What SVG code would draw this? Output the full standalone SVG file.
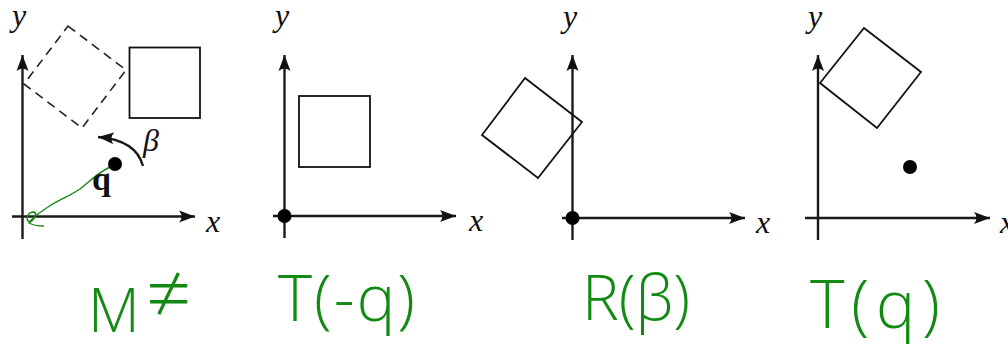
<svg xmlns="http://www.w3.org/2000/svg" width="1008" height="345" viewBox="0 0 1008 345">
<style>
.axis{stroke:#1a1a1a;stroke-width:2.4;fill:none}
.sq{stroke:#111;stroke-width:1.8;fill:none}
.dash{stroke:#222;stroke-width:1.6;fill:none;stroke-dasharray:9 6}
.lbl{font-family:"Liberation Serif",serif;font-style:italic;font-size:32px;fill:#111}
.hand{font-family:"Open Sans","Liberation Sans",sans-serif;font-weight:300;fill:#138a13}
.dot{fill:#000}
</style>
<defs>
<marker id="ah" viewBox="-16 -7 18 14" refX="0" refY="0" markerWidth="18" markerHeight="14" markerUnits="userSpaceOnUse" orient="auto">
<path d="M0,0 L-16,-6 Q-11,0 -16,6 Z" fill="#111"/>
</marker>
</defs>
<g id="connectors">
<line class="axis" x1="22.5" y1="239" x2="22.5" y2="55" marker-end="url(#ah)"/>
<line class="axis" x1="12" y1="216.5" x2="195" y2="216.5" marker-end="url(#ah)"/>
<line class="axis" x1="284.5" y1="238" x2="284.5" y2="55" marker-end="url(#ah)"/>
<line class="axis" x1="273" y1="216" x2="456" y2="216" marker-end="url(#ah)"/>
<line class="axis" x1="572.5" y1="240" x2="572.5" y2="55" marker-end="url(#ah)"/>
<line class="axis" x1="562" y1="218" x2="745" y2="218" marker-end="url(#ah)"/>
<line class="axis" x1="818" y1="240" x2="818" y2="55" marker-end="url(#ah)"/>
<line class="axis" x1="805" y1="218" x2="990" y2="218" marker-end="url(#ah)"/>
<path class="axis" d="M143,166 Q136,140 98,137" stroke-width="2.2" marker-end="url(#ah)"/>
<path d="M110,167 C96,174 88,183 80,189 C70,196 60,199 48,207 C40,212 34,217 29,222 C25,218 28,212 34,212 C38,214 34,220 29,223 C34,226 40,226 44,226" fill="none" stroke="#138a13" stroke-width="1.4"/>
</g>
<g id="panel1">
<text class="lbl" x="12" y="26">y</text>
<text class="lbl" x="206" y="232">x</text>
<polygon class="dash" points="68,26 126,70 82,128 24,84"/>
<rect class="sq" x="129.5" y="47.5" width="70.5" height="70.5"/>
<circle class="dot" cx="115" cy="164" r="7"/>
<text x="92" y="190" font-family="Liberation Serif,serif" font-weight="bold" font-size="34" fill="#111">q</text>
<text class="lbl" x="143" y="151" font-size="38">β</text>
</g>
<g id="panel2">
<text class="lbl" x="275" y="26">y</text>
<text class="lbl" x="469" y="231">x</text>
<rect class="sq" x="299" y="96" width="71" height="71"/>
<circle class="dot" cx="284.5" cy="216" r="7"/>
</g>
<g id="panel3">
<text class="lbl" x="563" y="27">y</text>
<text class="lbl" x="756" y="233">x</text>
<polygon class="sq" points="525,78 582,122 538,178 482,135"/>
<circle class="dot" cx="572.5" cy="218" r="7"/>
</g>
<g id="panel4">
<text class="lbl" x="808" y="27">y</text>
<text class="lbl" x="1000" y="233">x</text>
<polygon class="sq" points="864,28 921,72 877,128 820,83"/>
<circle class="dot" cx="910" cy="167" r="7"/>
</g>
<g id="handwriting">
<text class="hand" x="88" y="332" font-size="60">M</text>
<text class="hand" x="146" y="322" font-size="80">≠</text>
<text class="hand" x="278" y="321" font-size="65" textLength="137" lengthAdjust="spacing">T(-q)</text>
<text class="hand" x="582" y="320" font-size="62" textLength="108" lengthAdjust="spacing">R(β)</text>
<text class="hand" x="810" y="328" font-size="66" textLength="130" lengthAdjust="spacing">T(q)</text>
</g>
</svg>
